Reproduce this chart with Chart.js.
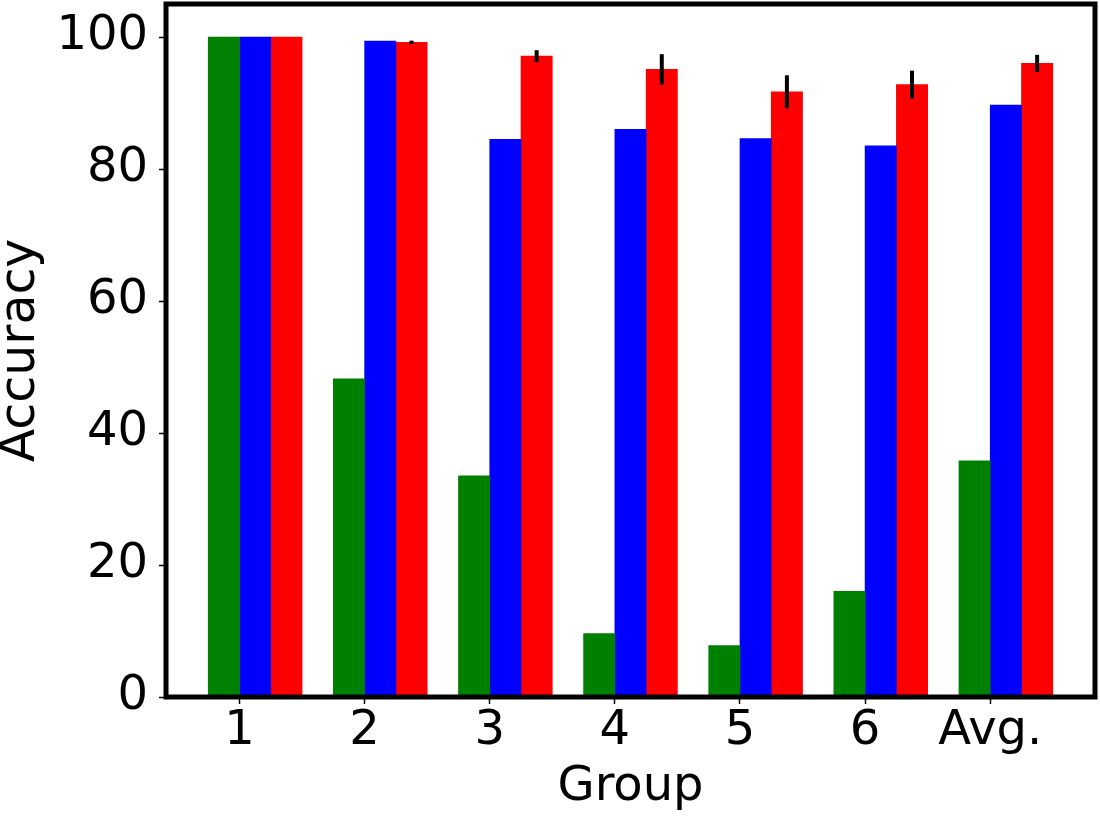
<!DOCTYPE html>
<html>
<head>
<meta charset="utf-8">
<script src="https://cdn.jsdelivr.net/npm/chart.js@4.4.1/dist/chart.umd.min.js"></script>
<style>
  html, body { margin: 0; padding: 0; background: #fff; }
  #wrap { width: 1100px; height: 818px; }
</style>
</head>
<body>
<div id="wrap"><canvas id="barChart"></canvas></div>
<script>
// Data
const groups = ['1', '2', '3', '4', '5', '6', 'Avg.'];
const greenValues = [100, 48.2, 33.5, 9.6, 7.8, 16.0, 35.8];
const blueValues = [100, 99.4, 84.5, 86.0, 84.6, 83.5, 89.7];
const redValues = [100, 99.2, 97.1, 95.1, 91.7, 92.8, 96.0];
const redErrors = [0, 0.25, 0.9, 2.3, 2.5, 2.1, 1.3];
const yTicks = [0, 20, 40, 60, 80, 100];

// bars sit left/right of each group tick
const toPoints = (vals, shift) => vals.map((v, i) => ({ x: i + shift, y: v }));

const FONT = "'DejaVu Sans', sans-serif";

// black frame round the plot
const framePlugin = {
    id: 'frame',
    afterDraw(chart) {
        const a = chart.chartArea;
        const ctx = chart.ctx;
        ctx.save();
        ctx.strokeStyle = '#000';
        ctx.lineWidth = 5;
        ctx.strokeRect(a.left, a.top, a.right - a.left, a.bottom - a.top);
        ctx.restore();
    }
};

// vertical error lines on the red bars
const errorPlugin = {
    id: 'errorBars',
    afterDatasetsDraw(chart) {
        const meta = chart.getDatasetMeta(2);
        const yScale = chart.scales.y;
        const ctx = chart.ctx;
        ctx.save();
        ctx.strokeStyle = '#000';
        ctx.lineWidth = 4;
        meta.data.forEach((bar, i) => {
            const err = redErrors[i];
            if (!err) return;
            ctx.beginPath();
            ctx.moveTo(bar.x, yScale.getPixelForValue(redValues[i] + err));
            ctx.lineTo(bar.x, yScale.getPixelForValue(redValues[i] - err));
            ctx.stroke();
        });
        ctx.restore();
    }
};

const ctx = document.getElementById('barChart').getContext('2d');
const myChart = new Chart(ctx, {
    type: 'bar',
    data: {
        datasets: [
            { data: toPoints(greenValues, -0.125), backgroundColor: '#008000' },
            { data: toPoints(blueValues, 0.125), backgroundColor: '#0000ff' },
            { data: toPoints(redValues, 0.375), backgroundColor: '#ff0000' }
        ]
    },
    options: {
        responsive: true,
        maintainAspectRatio: false,
        animation: false,
        grouped: false,
        barPercentage: 1,
        categoryPercentage: 1,
        layout: { padding: { top: 4, right: 5, left: 0, bottom: 0 } },
        scales: {
            x: {
                type: 'linear',
                offset: false,
                min: -0.5875,
                max: 6.8375,
                afterBuildTicks: (scale) => {
                    scale.ticks = groups.map((g, i) => ({ value: i }));
                },
                afterFit: (scale) => {
                    scale.height = 121;
                    scale.paddingLeft = 0;
                    scale.paddingRight = 0;
                },
                ticks: {
                    color: '#000',
                    padding: 4,
                    font: { family: FONT, size: 48, lineHeight: 1 },
                    callback: (value) => groups[value]
                },
                grid: {
                    offset: false,
                    drawOnChartArea: false,
                    tickColor: '#000',
                    tickWidth: 1.5,
                    tickLength: 7
                },
                border: { display: false },
                title: {
                    display: true,
                    text: 'Group',
                    color: '#000',
                    padding: { top: 0, bottom: 6 },
                    font: { family: FONT, size: 48, lineHeight: 1 }
                }
            },
            y: {
                min: 0,
                max: 105,
                afterBuildTicks: (scale) => {
                    scale.ticks = yTicks.map(v => ({ value: v }));
                },
                afterFit: (scale) => {
                    scale.width = 166;
                    scale.paddingTop = 0;
                    scale.paddingBottom = 0;
                },
                ticks: {
                    color: '#000',
                    padding: 11,
                    font: { family: FONT, size: 48, lineHeight: 1 }
                },
                grid: {
                    drawOnChartArea: false,
                    tickColor: '#000',
                    tickWidth: 1.5,
                    tickLength: 7
                },
                border: { display: false },
                title: {
                    display: true,
                    text: 'Accuracy',
                    color: '#000',
                    padding: { top: -3, bottom: 0 },
                    font: { family: FONT, size: 49, lineHeight: 1 }
                }
            }
        },
        plugins: {
            legend: { display: false },
            title: { display: false },
            tooltip: { enabled: false }
        }
    },
    plugins: [framePlugin, errorPlugin]
});
</script>
</body>
</html>
